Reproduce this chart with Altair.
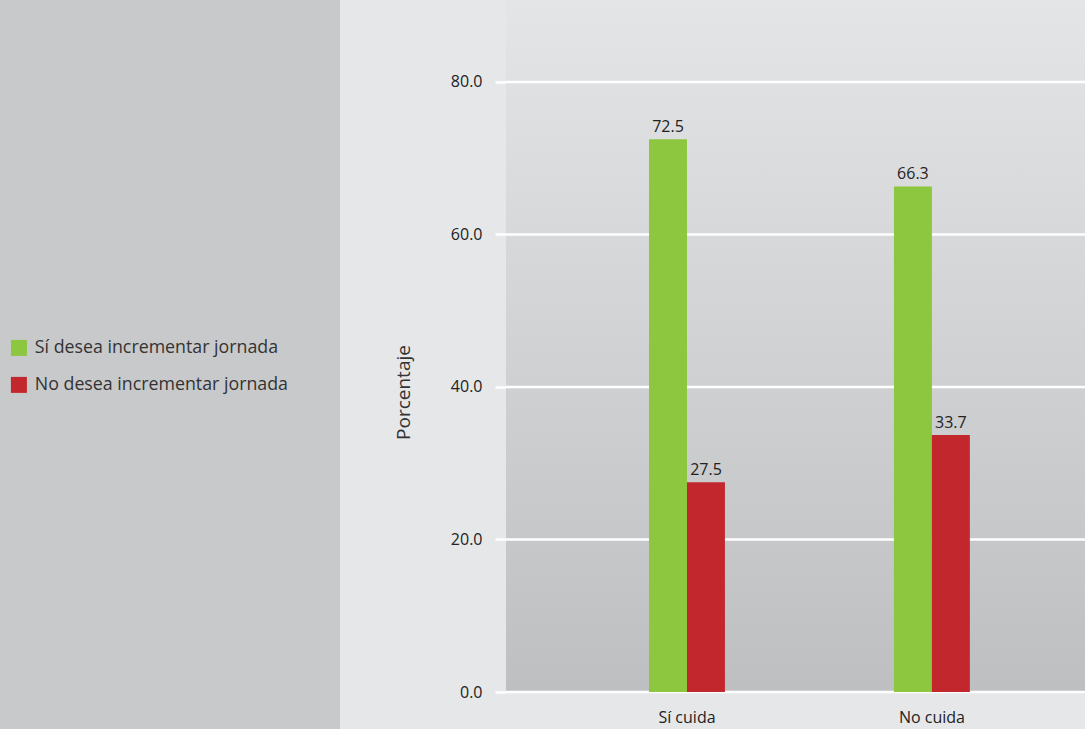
import altair as alt
import pandas as pd

categories = ["Sí cuida", "No cuida"]
series = ["Sí desea incrementar jornada", "No desea incrementar jornada"]
si_desea = [72.5, 66.3]
no_desea = [27.5, 33.7]
y_ticks = [0, 20, 40, 60, 80]
colors = ["#8dc63f", "#c1272d"]

rows = []
for i, c in enumerate(categories):
    rows.append({"cat": c, "serie": series[0], "val": si_desea[i]})
    rows.append({"cat": c, "serie": series[1], "val": no_desea[i]})
df = pd.DataFrame(rows)
ticks_df = pd.DataFrame({"val": y_ticks})

FONT = "Open Sans"
W, H = 579, 692
LEFT = 506

y_scale = alt.Scale(domain=[0, 90.75], nice=False, zero=True)
y_axis = alt.Axis(values=y_ticks, format=".1f", title="Porcentaje",
                  titleFont=FONT, titleFontSize=19, titleFontWeight="normal",
                  titleColor="#333", titleAngle=270, titleX=403 - LEFT, titleY=392,
                  titleAlign="center", titleBaseline="middle",
                  labelFont=FONT, labelFontSize=16, labelColor="#222",
                  labelPadding=13, tickSize=11, tickColor="white", tickWidth=2.5,
                  domain=False, grid=False)

x_enc = alt.X("cat:N", sort=categories,
              scale=alt.Scale(paddingInner=0.69, paddingOuter=0.527, align=0.554),
              axis=alt.Axis(title=None, labelAngle=0, ticks=False, domain=False,
                            labelFontSize=16, labelColor="#222", labelFont=FONT,
                            labelPadding=17, grid=False))

panel = alt.Chart(pd.DataFrame({"a": [0]})).mark_rect(color="#c8c9cb").encode(
    x=alt.value(-LEFT), x2=alt.value(340 - LEFT), y=alt.value(0), y2=alt.value(729)
)

grad = alt.LinearGradient(
    gradient="linear",
    stops=[alt.GradientStop(offset=0, color="#e4e5e7"),
           alt.GradientStop(offset=1, color="#bebfc1")],
    x1=0, x2=0, y1=0, y2=1,
)

bg = alt.Chart(pd.DataFrame({"a": [0]})).mark_rect(color=grad).encode(
    x=alt.value(0), x2=alt.value(W), y=alt.value(0), y2=alt.value(H)
)

grid = alt.Chart(ticks_df).mark_rule(color="white", strokeWidth=2.5).encode(
    y=alt.Y("val:Q", scale=y_scale, axis=y_axis),
    x=alt.value(0), x2=alt.value(W),
)

bars = alt.Chart(df).mark_bar().encode(
    x=x_enc,
    xOffset=alt.XOffset("serie:N", sort=series, scale=alt.Scale(paddingInner=0, paddingOuter=0)),
    y=alt.Y("val:Q", scale=y_scale, axis=y_axis),
    color=alt.Color("serie:N", sort=series, scale=alt.Scale(domain=series, range=colors),
                    legend=alt.Legend(title=None, orient="none", legendX=10 - LEFT, legendY=339,
                                      symbolType="square", symbolSize=256, symbolStrokeWidth=0,
                                      labelFont=FONT, labelFontSize=17.8, labelColor="#333",
                                      labelOffset=7, rowPadding=18, padding=0, zindex=1,
                                      labelLimit=400)),
)

labels = alt.Chart(df).mark_text(baseline="bottom", dy=-4, font=FONT, fontSize=16,
                                 color="#222").encode(
    x=alt.X("cat:N", sort=categories),
    xOffset=alt.XOffset("serie:N", sort=series),
    y=alt.Y("val:Q"),
    text=alt.Text("val:Q", format=".1f"),
)

chart = alt.layer(panel, bg, grid, bars, labels).properties(
    width=W, height=H,
    autosize=alt.AutoSizeParams(type="none"),
    padding={"left": LEFT, "top": 0, "right": 0, "bottom": 37},
    background="#e6e7e9",
).configure_view(stroke=None)

chart.save("out.html", embed_options={"renderer": "svg", "actions": False})
